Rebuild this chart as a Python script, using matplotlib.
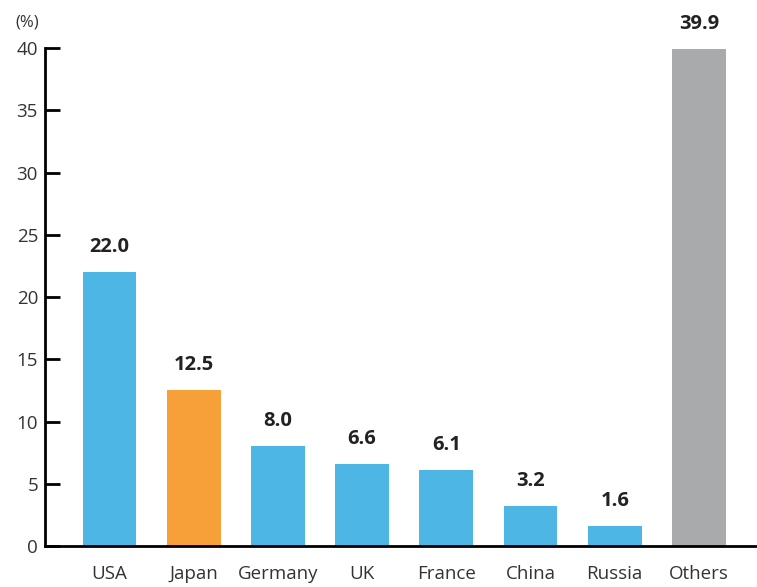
import numpy as np
import matplotlib.pyplot as plt

plt.rcParams['font.family'] = ['Open Sans', 'DejaVu Sans']

# data
countries = ["USA", "Japan", "Germany", "UK", "France", "China", "Russia", "Others"]
shares = [22.0, 12.5, 8.0, 6.6, 6.1, 3.2, 1.6, 39.9]
colors = ["#4db6e4", "#f7a03a", "#4db6e4", "#4db6e4", "#4db6e4", "#4db6e4", "#4db6e4", "#a9aaac"]
yticks = [0, 5, 10, 15, 20, 25, 30, 35, 40]

fig = plt.figure(figsize=(7.57, 5.87), dpi=100)
ax = fig.add_axes([0.0594, 0.0698, 0.9406, 0.8484])

x = np.arange(len(countries))
ax.bar(x, shares, width=0.64, color=colors, zorder=2)

for xi, v in zip(x, shares):
    ax.text(xi, v + 1.2, "%.1f" % v, ha="center", va="bottom", fontsize=14.5,
            fontweight="bold", color="#222222", clip_on=False)

ax.set_xlim(-0.766, 7.69)
ax.set_ylim(0, 40)
ax.set_xticks(x)
ax.set_xticklabels(countries, fontsize=13.5, color="#333333")
ax.set_yticks(yticks)
ax.set_yticklabels([str(t) for t in yticks], fontsize=13.5, color="#333333")

ax.tick_params(axis="y", direction="in", length=11, width=2, pad=5)
ax.tick_params(axis="x", length=0, pad=14)

for s in ["top", "right"]:
    ax.spines[s].set_visible(False)
ax.spines["left"].set_linewidth(2)
ax.spines["bottom"].set_linewidth(2)

fig.text(0.02, 0.962, "(%)", fontsize=12, color="#333333", ha="left", va="center")

fig.savefig("out.png", dpi=100)
